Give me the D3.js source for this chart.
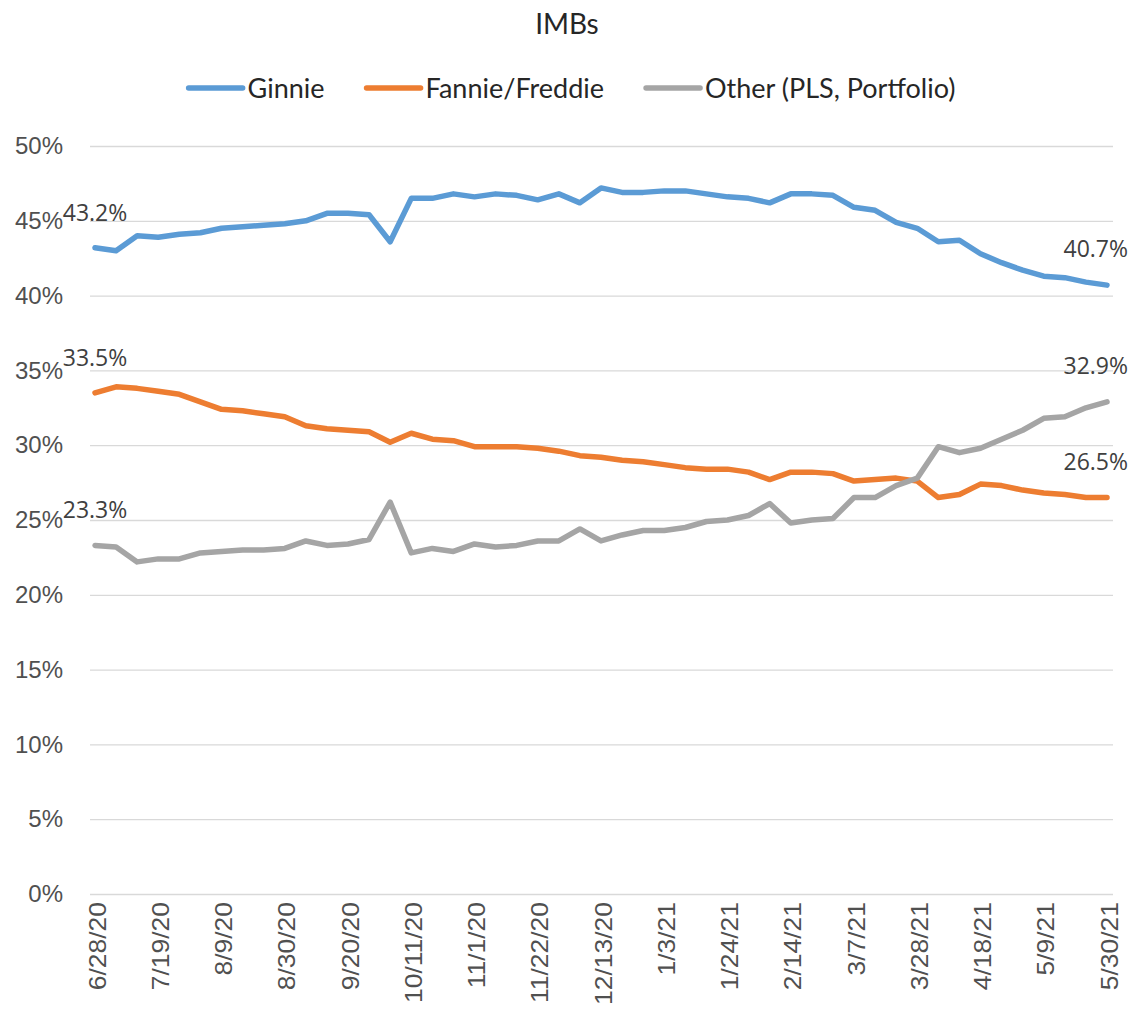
<!DOCTYPE html>
<html>
<head>
<meta charset="utf-8">
<script src="https://cdn.jsdelivr.net/npm/d3@7"></script>
<style>
	body { margin: 0; background: #fff; }
	.y-axis text { font-family: "Liberation Sans", Arial, sans-serif; font-size: 24px; fill: #505050; }
	.x-axis text { font-family: "Liberation Sans", Arial, sans-serif; font-size: 23px; fill: #505050; }
	.grid line { stroke: #d9d9d9; stroke-width: 1.3px; }
</style>
</head>
<body>
<div id="chart-area"></div>
<script>
// Weekly categories
let weeks = ["6/28/20", "7/5/20", "7/12/20", "7/19/20", "7/26/20", "8/2/20", "8/9/20", "8/16/20", "8/23/20", "8/30/20",
	"9/6/20", "9/13/20", "9/20/20", "9/27/20", "10/4/20", "10/11/20", "10/18/20", "10/25/20", "11/1/20", "11/8/20",
	"11/15/20", "11/22/20", "11/29/20", "12/6/20", "12/13/20", "12/20/20", "12/27/20", "1/3/21", "1/10/21", "1/17/21",
	"1/24/21", "1/31/21", "2/7/21", "2/14/21", "2/21/21", "2/28/21", "3/7/21", "3/14/21", "3/21/21", "3/28/21",
	"4/4/21", "4/11/21", "4/18/21", "4/25/21", "5/2/21", "5/9/21", "5/16/21", "5/23/21", "5/30/21"];

// Labels shown on the x axis
let weekTicks = ["6/28/20", "7/19/20", "8/9/20", "8/30/20", "9/20/20", "10/11/20", "11/1/20", "11/22/20", "12/13/20",
	"1/3/21", "1/24/21", "2/14/21", "3/7/21", "3/28/21", "4/18/21", "5/9/21", "5/30/21"];

// Share values (%)
let ginnie = [43.2, 43.0, 44.0, 43.9, 44.1, 44.2, 44.5, 44.6, 44.7, 44.8, 45.0, 45.5, 45.5, 45.4, 43.6, 46.5, 46.5,
	46.8, 46.6, 46.8, 46.7, 46.4, 46.8, 46.2, 47.2, 46.9, 46.9, 47.0, 47.0, 46.8, 46.6, 46.5, 46.2, 46.8, 46.8, 46.7,
	45.9, 45.7, 44.9, 44.5, 43.6, 43.7, 42.8, 42.2, 41.7, 41.3, 41.2, 40.9, 40.7];

let fannieFreddie = [33.5, 33.9, 33.8, 33.6, 33.4, 32.9, 32.4, 32.3, 32.1, 31.9, 31.3, 31.1, 31.0, 30.9, 30.2, 30.8,
	30.4, 30.3, 29.9, 29.9, 29.9, 29.8, 29.6, 29.3, 29.2, 29.0, 28.9, 28.7, 28.5, 28.4, 28.4, 28.2, 27.7, 28.2, 28.2,
	28.1, 27.6, 27.7, 27.8, 27.6, 26.5, 26.7, 27.4, 27.3, 27.0, 26.8, 26.7, 26.5, 26.5];

let other = [23.3, 23.2, 22.2, 22.4, 22.4, 22.8, 22.9, 23.0, 23.0, 23.1, 23.6, 23.3, 23.4, 23.7, 26.2, 22.8, 23.1,
	22.9, 23.4, 23.2, 23.3, 23.6, 23.6, 24.4, 23.6, 24.0, 24.3, 24.3, 24.5, 24.9, 25.0, 25.3, 26.1, 24.8, 25.0, 25.1,
	26.5, 26.5, 27.3, 27.8, 29.9, 29.5, 29.8, 30.4, 31.0, 31.8, 31.9, 32.5, 32.9];

let seriesNames = ["Ginnie", "Fannie/Freddie", "Other (PLS, Portfolio)"];
let seriesColors = ["#5b9bd5", "#ed7d31", "#a5a5a5"];

let yTicks = [0, 5, 10, 15, 20, 25, 30, 35, 40, 45, 50];

let width = 1133, height = 1027;
let plot = {left: 90, right: 1113, top: 146, bottom: 894};

let svg = d3.select("#chart-area")
	.append("svg")
	.attr("width", width)
	.attr("height", height);

// Scales
let xScale = d3.scalePoint()
	.domain(weeks)
	.range([95, 1107]);

let yScale = d3.scaleLinear()
	.domain([0, 50])
	.range([plot.bottom, plot.top]);

// Gridlines + y labels
let yAxis = d3.axisLeft(yScale)
	.tickValues(yTicks)
	.tickSize(-(plot.right - plot.left))
	.tickPadding(27)
	.tickFormat(d => d + "%");

svg.append("g")
	.attr("class", "axis y-axis grid")
	.attr("transform", "translate(" + plot.left + ",0)")
	.call(yAxis)
	.call(g => g.select(".domain").remove());

// X axis labels, rotated
let xAxis = d3.axisBottom(xScale)
	.tickValues(weekTicks)
	.tickSize(0)
	.tickPadding(0);

svg.append("g")
	.attr("class", "axis x-axis")
	.attr("transform", "translate(0," + plot.bottom + ")")
	.call(xAxis)
	.call(g => g.select(".domain").remove())
	.selectAll("text")
		.attr("text-anchor", "end")
		.attr("x", 0)
		.attr("y", 0)
		.attr("dy", "0.35em")
		.attr("transform", "translate(2,8) rotate(-90) scale(1.15,1)");

// Lines
let series = [ginnie, fannieFreddie, other];

let lineGen = d3.line()
	.x((d, i) => xScale(weeks[i]))
	.y(d => yScale(d));

svg.append("g")
	.selectAll("path")
	.data(series)
	.enter()
	.append("path")
	.attr("d", lineGen)
	.attr("fill", "none")
	.attr("stroke", (d, i) => seriesColors[i])
	.attr("stroke-width", 5.5)
	.attr("stroke-linejoin", "round")
	.attr("stroke-linecap", "round");

// First and last point labels
let labelGroup = svg.append("g")
	.attr("font-family", "'Open Sans', sans-serif")
	.attr("font-size", "23px")
	.attr("fill", "#404040");

series.forEach(function(s) {
	let first = s[0], last = s[s.length - 1];
	labelGroup.append("text")
		.attr("x", xScale(weeks[0]))
		.attr("y", yScale(first) - 27)
		.attr("text-anchor", "middle")
		.text(first.toFixed(1) + "%");
	labelGroup.append("text")
		.attr("x", 1128)
		.attr("y", yScale(last) - 28)
		.attr("text-anchor", "end")
		.text(last.toFixed(1) + "%");
});

// Title
svg.append("text")
	.attr("x", 567)
	.attr("y", 34)
	.attr("text-anchor", "middle")
	.attr("font-family", "Lato, sans-serif")
	.attr("font-size", "28px")
	.attr("fill", "#262626")
	.text("IMBs");

// Legend
let legend = svg.append("g")
	.attr("font-family", "Lato, sans-serif")
	.attr("font-size", "27px")
	.attr("fill", "#262626");

let items = legend.selectAll("g")
	.data(seriesNames)
	.enter()
	.append("g");

items.append("line")
	.attr("x1", 0)
	.attr("x2", 54)
	.attr("y1", 88)
	.attr("y2", 88)
	.attr("stroke", (d, i) => seriesColors[i])
	.attr("stroke-width", 5.5)
	.attr("stroke-linecap", "round");

items.append("text")
	.attr("x", 59)
	.attr("y", 98)
	.text(d => d);

// Lay legend items out in a row, centred
let offset = 0, offsets = [];
items.each(function() {
	offsets.push(offset);
	offset += 59 + d3.select(this).select("text").node().getComputedTextLength() + 42;
});
let legendStart = 572 - (offset - 42) / 2;
items.attr("transform", (d, i) => "translate(" + (legendStart + offsets[i]) + ",0)");
</script>
</body>
</html>
